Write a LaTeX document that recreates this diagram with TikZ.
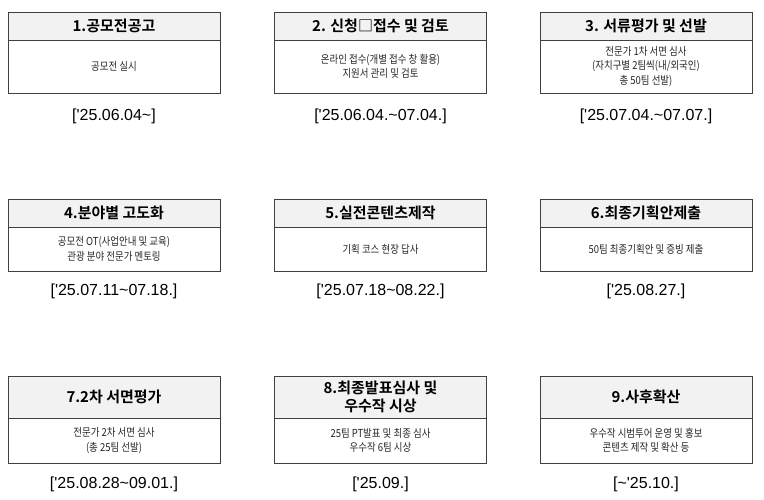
\documentclass[tikz,border=0pt]{standalone}
\usepackage{fontspec}
\setmainfont{Noto Sans CJK KR}[BoldFont={Noto Sans CJK KR Bold}]
\newfontfamily\bodyfont[FakeStretch=0.86]{Noto Sans CJK KR}
\newfontfamily\datefont{Liberation Sans}
\usetikzlibrary{positioning}
\definecolor{hgray}{RGB}{242,242,242}
\definecolor{lgray}{RGB}{64,64,64}
\definecolor{tgray}{RGB}{38,38,38}

\tikzset{
  stagehead/.style={draw=lgray, line width=0.9pt, fill=hgray, anchor=north,
    minimum width=212pt, minimum height=28pt, inner sep=0pt, outer sep=0pt,
    align=center, font=\fontsize{15}{18}\selectfont\bfseries},
  stagebody/.style={draw=lgray, line width=0.9pt, minimum width=212pt,
    inner sep=0pt, outer sep=0pt, align=center, text=tgray,
    font=\bodyfont\fontsize{11}{14.5}\selectfont},
  stagedate/.style={font=\datefont\fontsize{16}{18}\selectfont}
}

\begin{document}
\begin{tikzpicture}[x=1pt,y=-1pt]
  \useasboundingbox (0,0) rectangle (764,500);

  % row 1
  \node[stagehead] (h1) at (114,12) {1.공모전공고};
  \node[stagebody, minimum height=53pt, below=0pt of h1] (b1) {공모전 실시};
  \node[stagedate, below=12pt of b1] (d1) {['25.06.04\textasciitilde]};

  \node[stagehead] (h2) at (380.5,12) {2. 신청□접수 및 검토};
  \node[stagebody, minimum height=53pt, below=0pt of h2] (b2) {온라인 접수(개별 접수 창 활용)\\지원서 관리 및 검토};
  \node[stagedate, below=12pt of b2] (d2) {['25.06.04.\textasciitilde07.04.]};

  \node[stagehead] (h3) at (646,12) {3. 서류평가 및 선발};
  \node[stagebody, minimum height=53pt, below=0pt of h3] (b3) {전문가 1차 서면 심사\\(자치구별 2팀씩(내/외국인)\\총 50팀 선발)};
  \node[stagedate, below=12pt of b3] (d3) {['25.07.04.\textasciitilde07.07.]};

  % row 2
  \node[stagehead] (h4) at (114,199) {4.분야별 고도화};
  \node[stagebody, minimum height=44pt, below=0pt of h4] (b4) {공모전 OT(사업안내 및 교육)\\관광 분야 전문가 멘토링};
  \node[stagedate, below=9pt of b4] (d4) {['25.07.11\textasciitilde07.18.]};

  \node[stagehead] (h5) at (380.5,199) {5.실전콘텐츠제작};
  \node[stagebody, minimum height=44pt, below=0pt of h5] (b5) {기획 코스 현장 답사};
  \node[stagedate, below=9pt of b5] (d5) {['25.07.18\textasciitilde08.22.]};

  \node[stagehead] (h6) at (646,199) {6.최종기획안제출};
  \node[stagebody, minimum height=44pt, below=0pt of h6] (b6) {50팀 최종기획안 및 증빙 제출};
  \node[stagedate, below=9pt of b6] (d6) {['25.08.27.]};

  % row 3
  \node[stagehead, minimum height=42pt] (h7) at (114,376) {7.2차 서면평가};
  \node[stagebody, minimum height=45pt, below=0pt of h7] (b7) {전문가 2차 서면 심사\\(총 25팀 선발)};
  \node[stagedate, below=10pt of b7] (d7) {['25.08.28\textasciitilde09.01.]};

  \node[stagehead, minimum height=42pt] (h8) at (380.5,376) {8.최종발표심사 및\\우수작 시상};
  \node[stagebody, minimum height=45pt, below=0pt of h8] (b8) {25팀 PT발표 및 최종 심사\\우수작 6팀 시상};
  \node[stagedate, below=10pt of b8] (d8) {['25.09.]};

  \node[stagehead, minimum height=42pt] (h9) at (646,376) {9.사후확산};
  \node[stagebody, minimum height=45pt, below=0pt of h9] (b9) {우수작 시범투어 운영 및 홍보\\콘텐츠 제작 및 확산 등};
  \node[stagedate, below=10pt of b9] (d9) {[\textasciitilde'25.10.]};
\end{tikzpicture}
\end{document}
